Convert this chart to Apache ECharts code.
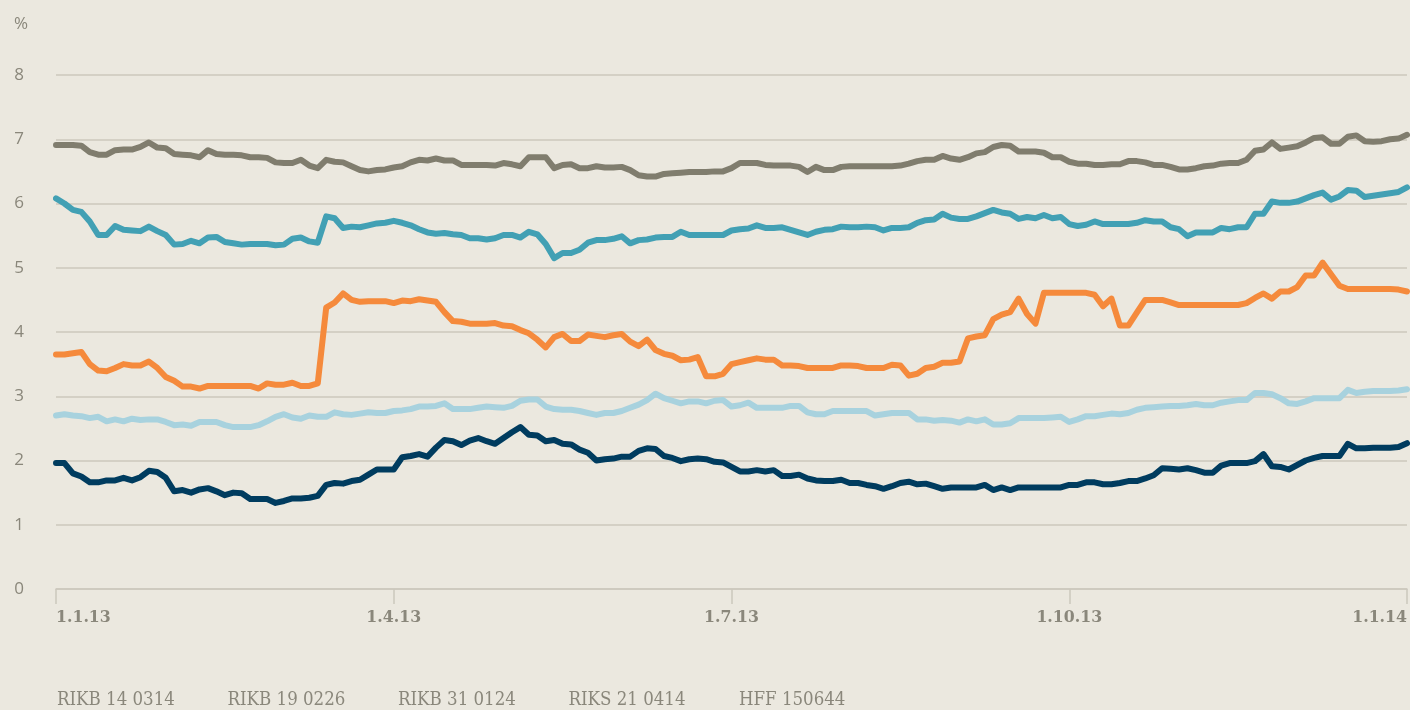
<!DOCTYPE html>
<html>
<head>
<meta charset="utf-8">
<script src="https://cdn.jsdelivr.net/npm/echarts@6/dist/echarts.min.js"></script>
<style>
  html, body { margin: 0; padding: 0; background: #ebe8df; }
  #chart { width: 1410px; height: 710px; }
</style>
</head>
<body>
<div id="chart"></div>
<script>
// Quarter tick labels; the series are sampled at 40 steps per quarter (161 points)
const quarterLabels = ['1.1.13', '1.4.13', '1.7.13', '1.10.13', '1.1.14'];
const stepsPerQuarter = 40;

const seriesNames = ['RIKB 14 0314', 'RIKB 19 0226', 'RIKB 31 0124', 'RIKS 21 0414', 'HFF 150644'];

// Yields, %
const rikb14 = [
  3.65,3.65,3.67,3.69,3.50,3.40,3.39,3.44,3.50,3.48,3.48,3.54,3.44,3.30,3.24,3.15,3.15,3.12,3.16,3.16,3.16,3.16,3.16,3.16,3.12,3.20,3.18,
  3.18,3.21,3.16,3.16,3.20,4.38,4.46,4.60,4.50,4.47,4.48,4.48,4.48,4.45,4.49,4.48,4.51,4.49,4.47,4.31,4.17,4.16,4.13,4.13,4.13,4.14,
  4.10,4.09,4.03,3.98,3.88,3.76,3.92,3.97,3.86,3.86,3.96,3.94,3.92,3.95,3.97,3.85,3.78,3.88,3.72,3.66,3.63,3.56,3.57,3.61,3.31,3.31,
  3.35,3.50,3.53,3.56,3.59,3.57,3.57,3.48,3.48,3.47,3.44,3.44,3.44,3.44,3.48,3.48,3.47,3.44,3.44,3.44,3.49,3.48,3.32,3.35,3.44,3.46,
  3.52,3.52,3.54,3.90,3.93,3.95,4.20,4.27,4.31,4.52,4.28,4.13,4.61,4.61,4.61,4.61,4.61,4.61,4.58,4.40,4.52,4.10,4.10,4.30,4.50,4.50,
  4.50,4.46,4.42,4.42,4.42,4.42,4.42,4.42,4.42,4.42,4.45,4.53,4.60,4.52,4.63,4.63,4.70,4.88,4.88,5.08,4.90,4.72,4.67,4.67,4.67,4.67,4.67,4.67,4.66,4.63
];

const rikb19 = [
  6.08,6.00,5.90,5.87,5.72,5.51,5.51,5.65,5.59,5.58,5.57,5.64,5.57,5.51,5.36,5.37,5.42,5.38,5.47,5.48,5.40,5.38,5.36,5.37,5.37,5.37,5.35,
  5.36,5.45,5.47,5.41,5.39,5.80,5.77,5.62,5.64,5.63,5.66,5.69,5.70,5.73,5.70,5.66,5.60,5.55,5.53,5.54,5.52,5.51,5.46,5.46,5.44,5.46,
  5.51,5.51,5.47,5.56,5.52,5.37,5.15,5.23,5.23,5.28,5.39,5.43,5.43,5.45,5.49,5.38,5.43,5.44,5.47,5.48,5.48,5.56,5.51,5.51,5.51,5.51,
  5.51,5.58,5.60,5.61,5.66,5.62,5.62,5.63,5.59,5.55,5.51,5.56,5.59,5.60,5.64,5.63,5.63,5.64,5.63,5.58,5.62,5.62,5.63,5.70,5.74,5.75,
  5.84,5.78,5.76,5.76,5.80,5.85,5.90,5.86,5.84,5.76,5.79,5.77,5.82,5.77,5.79,5.68,5.65,5.67,5.72,5.68,5.68,5.68,5.68,5.70,5.74,5.72,
  5.72,5.63,5.60,5.49,5.55,5.55,5.55,5.62,5.60,5.63,5.63,5.84,5.84,6.03,6.01,6.01,6.03,6.08,6.13,6.17,6.06,6.11,6.21,6.20,6.10,6.12,6.14,6.16,6.18,6.25
];

const rikb31 = [
  6.91,6.91,6.91,6.90,6.80,6.76,6.76,6.83,6.84,6.84,6.88,6.95,6.87,6.86,6.77,6.76,6.75,6.72,6.83,6.77,6.76,6.76,6.75,6.72,6.72,6.71,6.64,
  6.63,6.63,6.68,6.59,6.55,6.68,6.65,6.64,6.58,6.52,6.50,6.52,6.53,6.56,6.58,6.64,6.68,6.67,6.70,6.67,6.67,6.60,6.60,6.60,6.60,6.59,
  6.63,6.61,6.58,6.72,6.72,6.72,6.55,6.60,6.61,6.55,6.55,6.58,6.56,6.56,6.57,6.52,6.44,6.42,6.42,6.46,6.47,6.48,6.49,6.49,6.49,6.50,
  6.50,6.55,6.63,6.63,6.63,6.60,6.59,6.59,6.59,6.57,6.49,6.57,6.52,6.52,6.57,6.58,6.58,6.58,6.58,6.58,6.58,6.59,6.62,6.66,6.68,6.68,
  6.74,6.70,6.68,6.72,6.78,6.80,6.88,6.91,6.90,6.81,6.81,6.81,6.79,6.72,6.72,6.65,6.62,6.62,6.60,6.60,6.61,6.61,6.66,6.66,6.64,6.60,
  6.60,6.57,6.53,6.53,6.55,6.58,6.59,6.62,6.63,6.63,6.68,6.82,6.84,6.95,6.85,6.87,6.89,6.95,7.02,7.03,6.93,6.93,7.04,7.06,6.97,6.96,6.97,7.00,7.01,7.07
];

const riks21 = [
  2.70,2.72,2.70,2.69,2.66,2.68,2.61,2.64,2.61,2.65,2.63,2.64,2.64,2.60,2.55,2.56,2.54,2.60,2.60,2.60,2.55,2.52,2.52,2.52,2.55,2.61,2.68,
  2.72,2.67,2.65,2.70,2.68,2.68,2.75,2.72,2.71,2.73,2.75,2.74,2.74,2.77,2.78,2.80,2.84,2.84,2.85,2.89,2.80,2.80,2.80,2.82,2.84,2.83,
  2.82,2.85,2.93,2.95,2.95,2.84,2.80,2.79,2.79,2.77,2.74,2.71,2.74,2.74,2.77,2.82,2.87,2.94,3.04,2.97,2.93,2.89,2.92,2.92,2.89,2.93,
  2.94,2.84,2.86,2.90,2.82,2.82,2.82,2.82,2.85,2.85,2.75,2.72,2.72,2.77,2.77,2.77,2.77,2.77,2.70,2.72,2.74,2.74,2.74,2.64,2.64,2.62,
  2.63,2.62,2.59,2.64,2.61,2.64,2.56,2.56,2.58,2.66,2.66,2.66,2.66,2.67,2.68,2.60,2.64,2.69,2.69,2.71,2.73,2.72,2.74,2.79,2.82,2.83,
  2.84,2.85,2.85,2.86,2.88,2.86,2.86,2.90,2.92,2.94,2.94,3.05,3.05,3.03,2.97,2.89,2.88,2.92,2.97,2.97,2.97,2.97,3.10,3.05,3.07,3.08,3.08,3.08,3.09,3.11
];

const hff150644 = [
  1.96,1.96,1.80,1.75,1.66,1.66,1.69,1.69,1.73,1.69,1.74,1.84,1.82,1.73,1.52,1.54,1.50,1.55,1.57,1.52,1.46,1.50,1.49,1.40,1.40,1.40,1.34,
  1.37,1.41,1.41,1.42,1.45,1.62,1.65,1.64,1.68,1.70,1.78,1.86,1.86,1.86,2.05,2.07,2.10,2.06,2.20,2.32,2.30,2.24,2.31,2.35,2.30,2.26,
  2.35,2.44,2.52,2.40,2.39,2.30,2.32,2.26,2.25,2.17,2.12,2.00,2.02,2.03,2.06,2.06,2.15,2.19,2.18,2.07,2.04,1.99,2.02,2.03,2.02,1.98,
  1.97,1.90,1.83,1.83,1.85,1.83,1.85,1.76,1.76,1.78,1.72,1.69,1.68,1.68,1.70,1.65,1.65,1.62,1.60,1.56,1.60,1.65,1.67,1.63,1.64,1.60,
  1.56,1.58,1.58,1.58,1.58,1.62,1.54,1.58,1.54,1.58,1.58,1.58,1.58,1.58,1.58,1.62,1.62,1.66,1.66,1.63,1.63,1.65,1.68,1.68,1.72,1.77,
  1.88,1.87,1.86,1.88,1.85,1.81,1.81,1.92,1.96,1.96,1.96,1.99,2.10,1.91,1.90,1.86,1.93,2.00,2.04,2.07,2.07,2.07,2.26,2.19,2.19,2.20,2.20,2.20,2.21,2.27
];

const seriesData = [rikb14, rikb19, rikb31, riks21, hff150644];
const seriesColors = ['#f58a3c', '#42a0b4', '#807d6e', '#a8d2de', '#003c5f'];

// Category slots: the quarter label sits on every 40th slot
const pointCount = (quarterLabels.length - 1) * stepsPerQuarter + 1;
const categories = [];
for (let i = 0; i < pointCount; i++) {
  categories.push(i % stepsPerQuarter === 0 ? quarterLabels[i / stepsPerQuarter] : String(i));
}

const textGray = '#8a877b';
const lineGray = '#ccc8bd';
const serifFont = "'DejaVu Serif Condensed', 'DejaVu Serif', serif";

const chart = echarts.init(document.getElementById('chart'), null, { renderer: 'canvas' });

chart.setOption({
  backgroundColor: '#ebe8df',
  animation: false,
  title: {
    text: '%',
    left: 9,
    top: 11,
    textStyle: { fontFamily: 'Open Sans', fontSize: 17, fontWeight: 'normal', color: textGray }
  },
  grid: { left: 56, right: 2, top: 75, bottom: 121, containLabel: false },
  legend: {
    data: seriesNames,
    left: 46,
    top: 683,
    orient: 'horizontal',
    itemWidth: 0,
    itemHeight: 0,
    itemGap: 4.5,
    selectedMode: false,
    itemStyle: { opacity: 0 },
    lineStyle: { opacity: 0 },
    textStyle: { fontFamily: serifFont, fontSize: 18.5, color: textGray, width: 160, lineHeight: 24 }
  },
  xAxis: {
    type: 'category',
    data: categories,
    boundaryGap: false,
    axisLine: { lineStyle: { color: lineGray, width: 1.5 } },
    axisTick: { show: true, interval: stepsPerQuarter - 1, length: 15, lineStyle: { color: lineGray, width: 1.5 } },
    axisLabel: {
      interval: stepsPerQuarter - 1,
      margin: 19,
      fontFamily: serifFont,
      fontSize: 17.5,
      fontWeight: 'bold',
      color: textGray,
      alignMinLabel: 'left',
      alignMaxLabel: 'right'
    },
    splitLine: { show: false }
  },
  yAxis: {
    type: 'value',
    min: 0,
    max: 8,
    interval: 1,
    axisLine: { show: false },
    axisTick: { show: false },
    axisLabel: { margin: 32, fontFamily: 'Open Sans', fontSize: 17, color: textGray },
    splitLine: { lineStyle: { color: lineGray, width: 1.5 } }
  },
  series: seriesNames.map((name, k) => ({
    name: name,
    type: 'line',
    data: seriesData[k],
    showSymbol: false,
    symbol: 'none',
    color: seriesColors[k],
    lineStyle: { width: 6, color: seriesColors[k], cap: 'round', join: 'round' },
    emphasis: { disabled: true }
  }))
});
</script>
</body>
</html>
